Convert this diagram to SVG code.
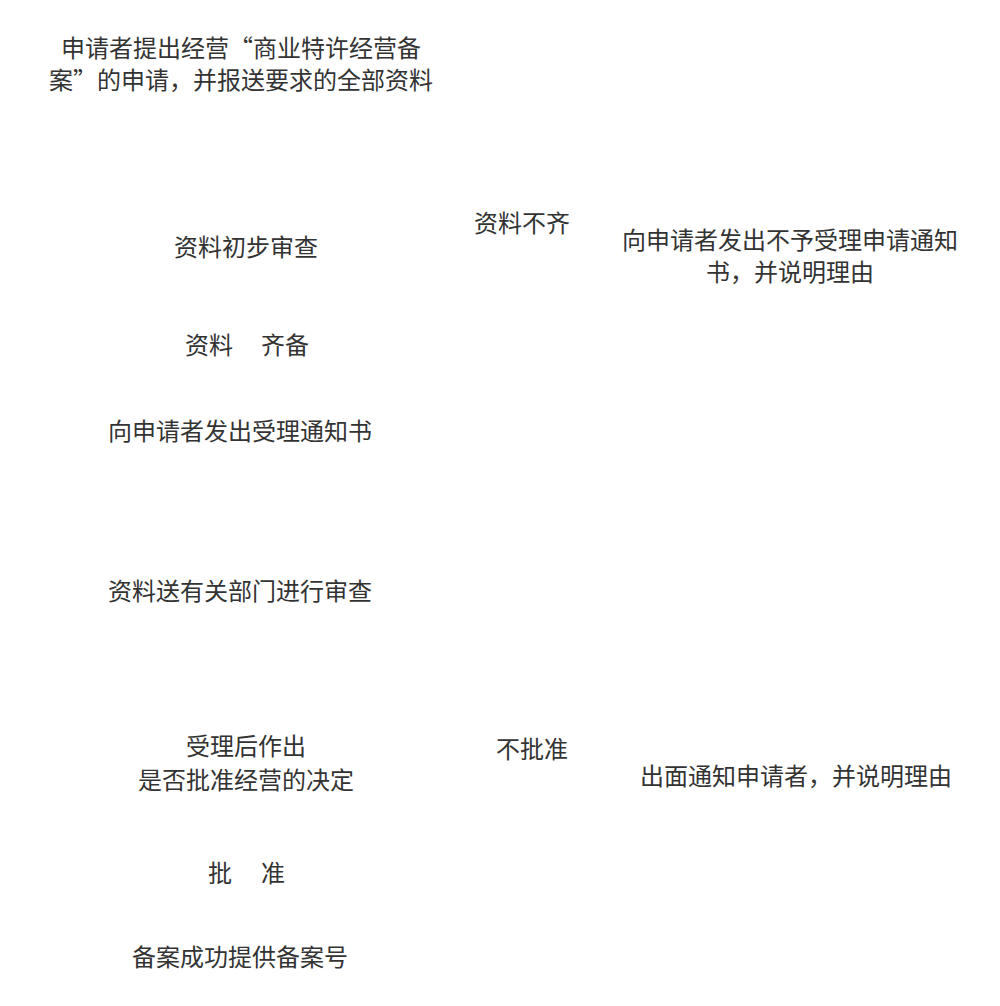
<svg xmlns="http://www.w3.org/2000/svg" width="1000" height="1006" viewBox="0 0 1000 1006">
<style>
text{font-family:"Noto Sans CJK SC","Noto Sans",sans-serif;font-size:24px;fill:#333;text-anchor:middle}
.l{text-anchor:start}
</style>
<rect width="1000" height="1006" fill="#fff"/>
<g id="apply"><text x="241" y="57">申请者提出经营“商业特许经营备</text><text x="241" y="89">案”的申请，并报送要求的全部资料</text></g>
<g id="check"><text x="246" y="256">资料初步审查</text></g>
<g id="label-incomplete"><text x="522" y="232">资料不齐</text></g>
<g id="reject-notice"><text x="790" y="249">向申请者发出不予受理申请通知</text><text x="790" y="281">书，并说明理由</text></g>
<g id="label-complete"><text class="l" x="185" y="354">资料</text><text class="l" x="261" y="354">齐备</text></g>
<g id="accept-notice"><text x="240" y="440">向申请者发出受理通知书</text></g>
<g id="send-review"><text x="240" y="600">资料送有关部门进行审查</text></g>
<g id="decision"><text x="246" y="755">受理后作出</text><text x="246" y="789">是否批准经营的决定</text></g>
<g id="label-deny"><text x="532" y="758">不批准</text></g>
<g id="deny-notice"><text x="796" y="785">出面通知申请者，并说明理由</text></g>
<g id="label-approve"><text class="l" x="208" y="882">批</text><text class="l" x="261" y="882">准</text></g>
<g id="success"><text x="240" y="966">备案成功提供备案号</text></g>
</svg>
